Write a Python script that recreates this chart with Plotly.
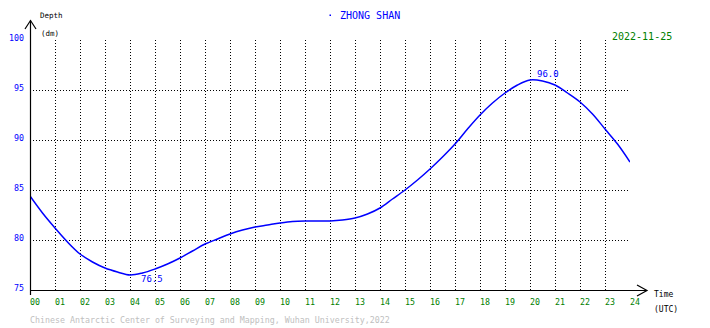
import plotly.graph_objects as go

# Tide height at Zhong Shan station, 2022-11-25 (decimetres, UTC hours)
hours = [0, 0.5, 1, 1.5, 2, 2.5, 3, 3.5, 4, 4.5, 5, 5.5, 6, 6.5, 7, 7.5, 8, 8.5,
         9, 9.5, 10, 10.5, 11, 11.5, 12, 12.5, 13, 13.5, 14, 14.5, 15, 15.5, 16,
         16.5, 17, 17.5, 18, 18.5, 19, 19.5, 20, 20.5, 21, 21.5, 22, 22.5, 23,
         23.5, 24]
depth_dm = [84.4, 82.7, 81.2, 79.8, 78.6, 77.8, 77.2, 76.8, 76.5, 76.7, 77.1, 77.6,
            78.2, 78.9, 79.6, 80.1, 80.6, 81.0, 81.3, 81.5, 81.7, 81.85, 81.9, 81.9,
            81.9, 82.0, 82.2, 82.6, 83.2, 84.1, 85.0, 86.0, 87.1, 88.3, 89.6, 91.1,
            92.5, 93.7, 94.7, 95.5, 96.0, 95.9, 95.5, 94.7, 93.8, 92.6, 91.1, 89.6,
            87.8]

hour_ticks = list(range(0, 25))
hour_labels = [f"{h:02d}" for h in hour_ticks]
depth_ticks = [75, 80, 85, 90, 95, 100]
depth_labels = [str(v) for v in depth_ticks]

station = "ZHONG SHAN"
date_label = "2022-11-25"
credit = "Chinese Antarctic Center of Surveying and Mapping, Wuhan University,2022"

W, H = 710, 328
L, R, T, B = 30, 80, 40, 38
PW, PH = W - L - R, H - T - B

MONO = "DejaVu Sans Mono"
BLUE = "#0000ff"
GREEN = "#008000"


def px(x):
    return (x - L) / PW


def py(y):
    return (H - B - y) / PH


fig = go.Figure()
fig.add_trace(go.Scatter(
    x=hours, y=depth_dm, mode="lines",
    line=dict(color=BLUE, width=1.5, shape="spline", smoothing=1.0),
    hoverinfo="x+y", showlegend=False,
))

# extreme values
i_min = depth_dm.index(min(depth_dm))
i_max = depth_dm.index(max(depth_dm))

annotations = [
    dict(x=hours[i_min], y=depth_dm[i_min], xref="x", yref="y",
         text=f"{depth_dm[i_min]:.1f}", showarrow=False,
         xanchor="left", yanchor="top", xshift=9, yshift=3,
         font=dict(family=MONO, size=9, color=BLUE)),
    dict(x=hours[i_max], y=depth_dm[i_max], xref="x", yref="y",
         text=f"{depth_dm[i_max]:.1f}", showarrow=False,
         xanchor="left", yanchor="bottom", xshift=5, yshift=-1,
         font=dict(family=MONO, size=9, color=BLUE)),
    dict(x=px(369.5), y=py(16), xref="paper", yref="paper", text=station,
         showarrow=False, xanchor="center", yanchor="middle",
         font=dict(family=MONO, size=10, color=BLUE)),
    dict(x=px(611), y=py(36.5), xref="paper", yref="paper", text=date_label,
         showarrow=False, xanchor="left", yanchor="middle", bgcolor="white",
         borderpad=0, font=dict(family=MONO, size=10, color=GREEN)),
    dict(x=px(38), y=py(15.5), xref="paper", yref="paper", text="Depth",
         showarrow=False, xanchor="left", yanchor="middle",
         font=dict(family=MONO, size=7.5, color="black")),
    dict(x=px(39), y=py(34), xref="paper", yref="paper", text="(dm)",
         showarrow=False, xanchor="left", yanchor="middle",
         font=dict(family=MONO, size=7.5, color="black")),
    dict(x=px(652), y=py(294), xref="paper", yref="paper", text="Time",
         showarrow=False, xanchor="left", yanchor="middle",
         font=dict(family=MONO, size=8, color="black")),
    dict(x=px(652), y=py(309.5), xref="paper", yref="paper", text="(UTC)",
         showarrow=False, xanchor="left", yanchor="middle",
         font=dict(family=MONO, size=8, color="black")),
    dict(x=px(28), y=py(320), xref="paper", yref="paper", text=credit,
         showarrow=False, xanchor="left", yanchor="middle",
         font=dict(family=MONO, size=8.3, color="#c0c0c0")),
]

axis_line = dict(color="black", width=1.2)
shapes = [
    # vertical axis with arrow head
    dict(type="line", xref="paper", yref="paper", x0=px(30.5), x1=px(30.5),
         y0=py(295), y1=py(20.5), line=axis_line, layer="above"),
    dict(type="path", xref="paper", yref="paper",
         path=f"M {px(25)} {py(29)} L {px(30.5)} {py(20.5)} L {px(36)} {py(29)}",
         line=axis_line, layer="above"),
    # horizontal axis with arrow head
    dict(type="line", xref="paper", yref="paper", x0=px(30), x1=px(647),
         y0=py(290.5), y1=py(290.5), line=axis_line, layer="above"),
    dict(type="path", xref="paper", yref="paper",
         path=f"M {px(637)} {py(285)} L {px(647)} {py(290.5)} L {px(637)} {py(296)}",
         line=axis_line, layer="above"),
    # small marker left of the station name
    dict(type="rect", xref="paper", yref="paper", x0=px(329.5), x1=px(331),
         y0=py(16), y1=py(14.5), line=dict(width=0), fillcolor=BLUE),
]

fig.update_layout(
    width=W, height=H,
    margin=dict(l=L, r=R, t=T, b=B, pad=0, autoexpand=False),
    paper_bgcolor="white", plot_bgcolor="white",
    annotations=annotations, shapes=shapes,
    showlegend=False,
    xaxis=dict(
        range=[0, 24], tickmode="array", tickvals=hour_ticks, ticktext=hour_labels,
        showgrid=True, gridcolor="black", gridwidth=1, griddash="1px,2px",
        zeroline=False, showline=False, ticks="", automargin=False,
        tickfont=dict(family=MONO, size=8.3, color=GREEN),
        ticklabelshift=5, ticklabelstandoff=6, fixedrange=True,
    ),
    yaxis=dict(
        range=[75, 100], tickmode="array", tickvals=depth_ticks, ticktext=depth_labels,
        showgrid=True, gridcolor="black", gridwidth=1, griddash="1px,2px",
        zeroline=False, showline=False, ticks="", automargin=False,
        tickfont=dict(family=MONO, size=8.3, color=BLUE),
        ticklabelshift=-2, ticklabelstandoff=5, fixedrange=True,
    ),
)

fig.write_html("out.html")
